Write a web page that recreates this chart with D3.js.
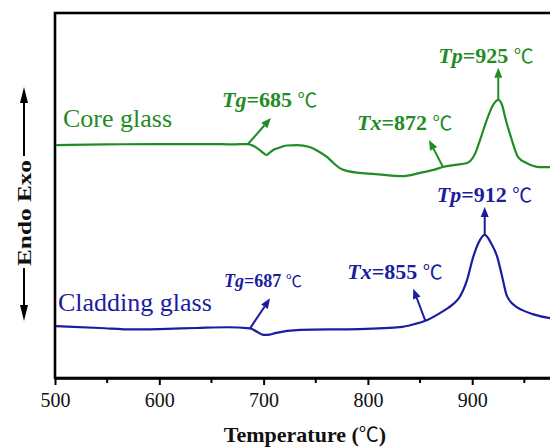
<!DOCTYPE html>
<html>
<head>
<meta charset="utf-8">
<script src="https://cdn.jsdelivr.net/npm/d3@7"></script>
<style>
  html, body { margin: 0; padding: 0; background: #fff; }
  svg { display: block; }
  text { font-family: "Liberation Serif", "Times New Roman", serif; }
</style>
</head>
<body>
<svg id="chart" width="550" height="447"></svg>
<script>
// DSC traces (temperature in °C, heat flow in arbitrary units, curves offset for clarity)
const coreTemp = [500, 550, 600, 650, 670, 685, 690, 696, 700, 703, 706, 710, 714, 722, 732, 744, 752, 761, 767, 773, 782, 792, 810, 833, 850, 864, 872, 884, 895, 903, 907.5, 915, 920, 925, 929, 931.5, 938, 944, 952, 965, 980];
const coreHeat = [6.38, 6.40, 6.41, 6.41, 6.40, 6.41, 6.36, 6.25, 6.16, 6.11, 6.18, 6.26, 6.30, 6.37, 6.38, 6.33, 6.22, 6.05, 5.89, 5.75, 5.66, 5.62, 5.58, 5.53, 5.62, 5.71, 5.78, 5.84, 5.89, 6.16, 6.52, 7.15, 7.48, 7.62, 7.45, 7.15, 6.52, 6.05, 5.89, 5.78, 5.78];

const cladTemp = [500, 543, 575, 600, 636, 665, 687, 694, 700, 706, 711, 735, 792, 833, 845, 857, 871, 877, 884, 888, 895, 901, 906, 912, 918, 924, 929, 933, 940, 948, 958, 975, 985];
const cladHeat = [1.42, 1.37, 1.33, 1.34, 1.37, 1.39, 1.36, 1.26, 1.18, 1.19, 1.23, 1.32, 1.34, 1.40, 1.48, 1.59, 1.81, 1.92, 2.08, 2.22, 2.68, 3.32, 3.70, 3.92, 3.70, 3.32, 2.74, 2.27, 2.00, 1.86, 1.75, 1.64, 1.62];

const seriesNames = ["Core glass", "Cladding glass"];
const seriesColors = ["#1f8c24", "#1c1c9e"];

// characteristic temperatures: glass transition, onset of crystallization, peak
const coreMarks = [{sym: "Tg", t: 685}, {sym: "Tx", t: 872}, {sym: "Tp", t: 925}];
const cladMarks = [{sym: "Tg", t: 687}, {sym: "Tx", t: 855}, {sym: "Tp", t: 912}];

const xTicks = [500, 600, 700, 800, 900];
const xMinorTicks = [550, 650, 750, 850, 950];
const xTitle = "Temperature (\u2103)";
const yTitle = "Endo Exo";

// ---- layout ----
const svg = d3.select("#chart");
const plot = {left: 55, top: 13, right: 576.5, bottom: 378};

const x = d3.scaleLinear().domain([500, 1000]).range([plot.left, plot.right]);
const y = d3.scaleLinear().domain([0, 10]).range([plot.bottom, plot.top]);

// arrow vectors (px) and label offsets from arrow tips, per annotation
const annoLayout = [
  [ {dx: 23, dy: -26, lx: -49, ly: -11, size: 22},
    {dx: -14, dy: -27, lx: -72, ly: -10, size: 22},
    {dx: 0, dy: -32, lx: -60, ly: -5, size: 22} ],
  [ {dx: 20, dy: -30, lx: -46, ly: -11, size: 18},
    {dx: -12, dy: -32, lx: -66, ly: -10, size: 22},
    {dx: 0, dy: -28, lx: -48, ly: -5, size: 22} ]
];
const seriesLabelPos = [{x: 63, y: 127}, {x: 58, y: 311}];

function arrow(g, x1, y1, x2, y2, color, width, headLen, headW) {
  const ang = Math.atan2(y2 - y1, x2 - x1);
  const bx = x2 - headLen * Math.cos(ang), by = y2 - headLen * Math.sin(ang);
  g.append("line").attr("x1", x1).attr("y1", y1).attr("x2", bx).attr("y2", by)
    .attr("stroke", color).attr("stroke-width", width);
  const px = Math.sin(ang) * headW / 2, py = -Math.cos(ang) * headW / 2;
  g.append("path")
    .attr("d", `M${x2},${y2}L${bx + px},${by + py}L${bx - px},${by - py}Z`)
    .attr("fill", color);
}

// ---- frame ----
svg.append("rect")
  .attr("x", plot.left).attr("y", plot.top)
  .attr("width", plot.right - plot.left).attr("height", plot.bottom - plot.top)
  .attr("fill", "none").attr("stroke", "#000").attr("stroke-width", 2.6);

// ---- x axis ----
const xAxis = d3.axisBottom(x).tickValues(xTicks).tickSize(7).tickSizeOuter(0).tickPadding(8).tickFormat(d3.format("d"));
const gx = svg.append("g").attr("transform", `translate(0,${plot.bottom})`).call(xAxis);
gx.select(".domain").attr("stroke-width", 2.6);
gx.selectAll(".tick line").attr("stroke-width", 2);
gx.selectAll(".tick text").attr("font-size", 20).attr("font-family", "Liberation Serif, serif").attr("fill", "#111");

svg.append("g").selectAll("line").data(xMinorTicks).join("line")
  .attr("x1", d => x(d)).attr("x2", d => x(d))
  .attr("y1", plot.bottom).attr("y2", plot.bottom + 5)
  .attr("stroke", "#000").attr("stroke-width", 2);

const xt = svg.append("text").attr("x", 305).attr("y", 442)
  .attr("text-anchor", "middle").attr("font-size", 22).attr("font-weight", "bold").attr("fill", "#111");
xt.append("tspan").text("Temperature (");
xt.append("tspan").attr("font-family", "Noto Sans CJK SC").attr("font-weight", "normal").attr("font-size", 20).text("\u2103");
xt.append("tspan").text(")");

// ---- y label with endo/exo arrows ----
const yl = svg.append("g");
const ylx = 24, ylMid = 213;
yl.append("text").attr("transform", `translate(${ylx + 7},${ylMid}) rotate(-90)`)
  .attr("text-anchor", "middle").attr("font-size", 19).attr("font-weight", "bold").attr("fill", "#111")
  .attr("textLength", 106).attr("lengthAdjust", "spacingAndGlyphs")
  .text(yTitle);
arrow(yl, ylx, 156, ylx, 87, "#000", 2, 16, 8);
arrow(yl, ylx, 268, ylx, 321, "#000", 2, 16, 8);

// ---- curves ----
const line = d3.line().x(d => x(d[0])).y(d => y(d[1])).curve(d3.curveMonotoneX);
const series = [
  {temp: coreTemp, heat: coreHeat, marks: coreMarks},
  {temp: cladTemp, heat: cladHeat, marks: cladMarks}
];

svg.append("clipPath").attr("id", "plotclip").append("rect")
  .attr("x", plot.left + 1).attr("y", plot.top + 1)
  .attr("width", plot.right - plot.left - 2).attr("height", plot.bottom - plot.top - 2);

series.forEach((s, i) => {
  const pts = s.temp.map((t, j) => [t, s.heat[j]]);
  const color = seriesColors[i];
  svg.append("path").datum(pts)
    .attr("clip-path", "url(#plotclip)")
    .attr("d", line).attr("fill", "none")
    .attr("stroke", color).attr("stroke-width", 2.2).attr("stroke-linejoin", "round");

  svg.append("text").attr("x", seriesLabelPos[i].x).attr("y", seriesLabelPos[i].y)
    .attr("font-size", 26).attr("fill", color).text(seriesNames[i]);

  const interp = d3.scaleLinear().domain(s.temp).range(s.heat);
  s.marks.forEach((m, k) => {
    const L = annoLayout[i][k];
    const bx = x(m.t), by = y(interp(m.t));
    const tx = bx + L.dx, ty = by + L.dy;
    const g = svg.append("g");
    arrow(g, bx, by, tx, ty, color, 2, 10, 8);
    const t = g.append("text").attr("x", tx + L.lx).attr("y", ty + L.ly)
      .attr("font-size", L.size).attr("fill", color).attr("font-weight", "bold");
    t.append("tspan").attr("font-style", "italic").text(m.sym);
    t.append("tspan").text("=" + m.t + " ");
    t.append("tspan").attr("font-family", "Noto Sans CJK SC").attr("font-weight", "normal")
      .attr("font-size", L.size * 0.9).text("\u2103");
  });
});
</script>
</body>
</html>
